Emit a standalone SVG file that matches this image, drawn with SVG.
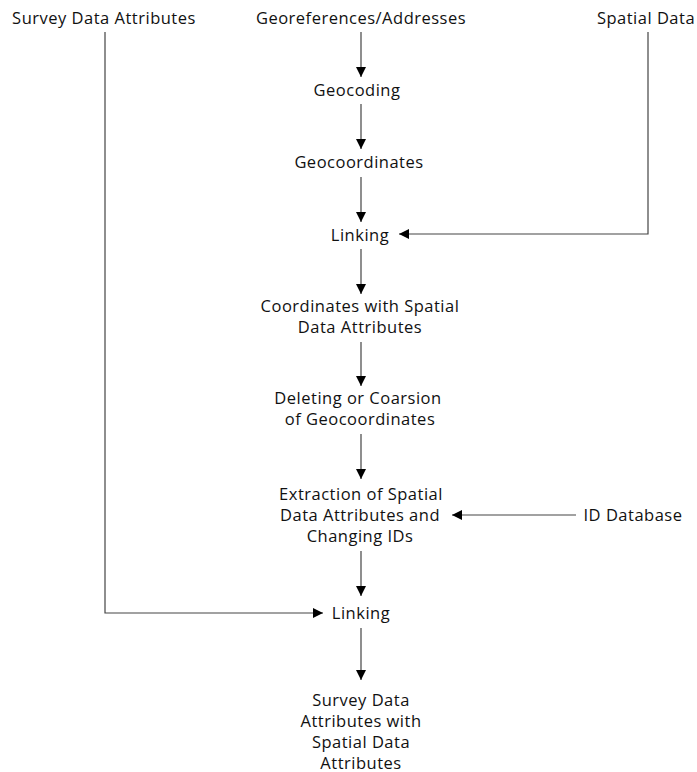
<svg xmlns="http://www.w3.org/2000/svg" width="697" height="772" viewBox="0 0 697 772">
<style>
text{font-family:"Open Sans","DejaVu Sans",sans-serif;font-size:16.5px;letter-spacing:0.5px;fill:#111;text-anchor:middle;dominant-baseline:central}
.c path{fill:none;stroke:#444;stroke-width:1.2}
</style>
<defs>
<marker id="a" viewBox="0 0 10 10" refX="10" refY="5" markerWidth="10" markerHeight="10" markerUnits="userSpaceOnUse" orient="auto"><path d="M0,0L10,5L0,10z" fill="#000"/></marker>
</defs>
<rect width="697" height="772" fill="#fff"/>
<g class="c" id="connectors">
<path d="M361,32V77" marker-end="url(#a)"/>
<path d="M361,104V149" marker-end="url(#a)"/>
<path d="M361,177V222" marker-end="url(#a)"/>
<path d="M648,32V234H399" marker-end="url(#a)"/>
<path d="M361,249V294" marker-end="url(#a)"/>
<path d="M361,342V386" marker-end="url(#a)"/>
<path d="M361,434V479" marker-end="url(#a)"/>
<path d="M576,515H452" marker-end="url(#a)"/>
<path d="M361,551V596" marker-end="url(#a)"/>
<path d="M105,32V613H323" marker-end="url(#a)"/>
<path d="M361,628V680" marker-end="url(#a)"/>
</g>
<g id="survey"><text x="104" y="17">Survey Data Attributes</text></g>
<g id="georef"><text x="361" y="17">Georeferences/Addresses</text></g>
<g id="spatial"><text x="646" y="17">Spatial Data</text></g>
<g id="geocoding"><text x="357" y="89">Geocoding</text></g>
<g id="geocoords"><text x="359" y="161">Geocoordinates</text></g>
<g id="linking1"><text x="360" y="234">Linking</text></g>
<g id="coordswith"><text x="360" y="305.5">Coordinates with Spatial</text><text x="360" y="326.5">Data Attributes</text></g>
<g id="deleting"><text x="358" y="397">Deleting or Coarsion</text><text x="360" y="418">of Geocoordinates</text></g>
<g id="extraction"><text x="361" y="493">Extraction of Spatial</text><text x="360" y="514">Data Attributes and</text><text x="360" y="535">Changing IDs</text></g>
<g id="iddb"><text x="633" y="514">ID Database</text></g>
<g id="linking2"><text x="361" y="612">Linking</text></g>
<g id="final"><text x="361" y="699">Survey Data</text><text x="361" y="720">Attributes with</text><text x="361" y="741">Spatial Data</text><text x="361" y="762">Attributes</text></g>
</svg>
